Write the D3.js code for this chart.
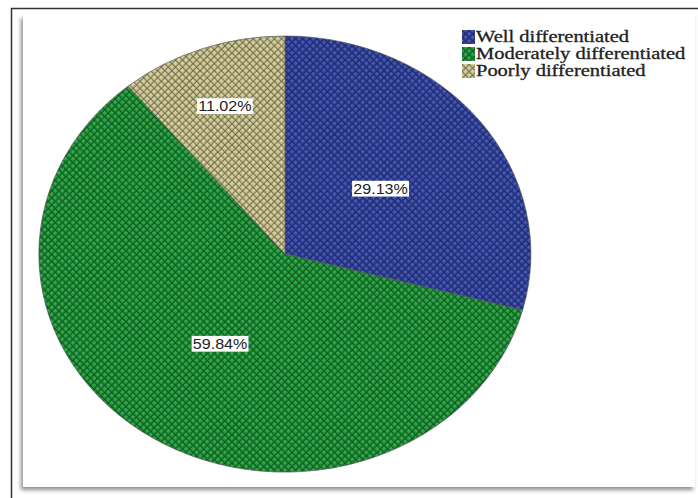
<!DOCTYPE html>
<html>
<head>
<meta charset="utf-8">
<script src="https://cdn.jsdelivr.net/npm/d3@7"></script>
<style>
  body { margin: 0; background: #fff; }
  svg { display: block; }
</style>
</head>
<body>
<svg id="chart" width="698" height="498"></svg>
<script>
// ------------------- Data -------------------
const categories = ["Well differentiated", "Moderately differentiated", "Poorly differentiated"];
const percents = [29.13, 59.84, 11.02];

const svg = d3.select("#chart");
const width = 698, height = 498;
const stretch = 1.15; // the original picture is stretched sideways

// ------------------- Frame -------------------
svg.append("rect").attr("x", 11.5).attr("y", 8.5).attr("width", 700).attr("height", 500)
  .attr("fill", "#fff").attr("stroke", "#333").attr("stroke-width", 1.5);

const defs = svg.append("defs");
const shadow = defs.append("filter").attr("id", "shadow")
  .attr("x", "-5%").attr("y", "-5%").attr("width", "110%").attr("height", "110%");
shadow.append("feDropShadow").attr("dx", -2).attr("dy", 3).attr("stdDeviation", 2)
  .attr("flood-color", "#000").attr("flood-opacity", 0.45);

svg.append("rect").attr("x", 23).attr("y", 15).attr("width", 672).attr("height", 472)
  .attr("fill", "#fff").attr("filter", "url(#shadow)");

// ------------------- Patterns -------------------
const color = d3.scaleOrdinal()
  .domain(categories)
  .range([
    { base: "#2f4096", dark: "#17205a", light: "#4658b2" },
    { base: "#1c8a36", dark: "#0a4617", light: "#36a84c" },
    { base: "#bdb584", dark: "#58563a", light: "#d8d1a4" }
  ]);

// ellipse pie geometry
const cx = 285, cy = 254, rx = 246, ry = 218;

function makePattern(id, col, transform) {
  const p = defs.append("pattern").attr("id", id)
    .attr("patternUnits", "userSpaceOnUse").attr("width", 5).attr("height", 5)
    .attr("patternTransform", transform);
  p.append("rect").attr("width", 5).attr("height", 5).attr("fill", col.base);
  p.append("rect").attr("x", 1.1).attr("y", 1.1).attr("width", 2.8).attr("height", 2.8).attr("fill", col.light);
  p.append("line").attr("x1", 0).attr("y1", 0).attr("x2", 5).attr("y2", 0)
    .attr("stroke", col.dark).attr("stroke-width", 1.3);
  p.append("line").attr("x1", 0).attr("y1", 0).attr("x2", 0).attr("y2", 5)
    .attr("stroke", col.dark).attr("stroke-width", 1.3);
}

categories.forEach((c, i) => {
  makePattern(`pat${i}`, color(c), "rotate(45)");
  makePattern(`pie${i}`, color(c), `scale(${1 / rx},${1 / ry}) rotate(45)`);
});

// ------------------- Pie (ellipse) -------------------
const pie = d3.pie().sort(null).value(d => d.value);
const arcs = pie(categories.map((c, i) => ({ cat: c, value: percents[i], i })));
const arc = d3.arc().innerRadius(0).outerRadius(1);

const g = svg.append("g").attr("transform", `translate(${cx},${cy}) scale(${rx},${ry})`);
g.selectAll("path.slice").data(arcs).join("path")
  .attr("class", "slice")
  .attr("d", arc)
  .attr("fill", d => `url(#pie${d.data.i})`)
  .attr("stroke", "#555")
  .attr("stroke-width", 0.7)
  .attr("vector-effect", "non-scaling-stroke");

// labels: small slices pushed outward
const labelG = svg.append("g");
arcs.forEach(d => {
  const r = d.data.value < 15 ? 0.72 : 0.49;
  const [x, y] = d3.arc().innerRadius(r).outerRadius(r).centroid(d);
  const lg = labelG.append("g")
    .attr("transform", `translate(${cx + x * rx},${cy + y * ry}) scale(${stretch},1)`);
  const t = lg.append("text")
    .attr("text-anchor", "middle").attr("dy", "0.35em")
    .attr("font-family", "Liberation Sans, Arial, sans-serif")
    .attr("font-size", 14).attr("fill", "#222")
    .text(`${d.data.value.toFixed(2)}%`);
  const bb = t.node().getBBox();
  lg.insert("rect", "text")
    .attr("x", bb.x - 1).attr("y", bb.y).attr("width", bb.width + 2).attr("height", bb.height)
    .attr("fill", "#fff");
});

// ------------------- Legend -------------------
const legend = svg.append("g").attr("transform", "translate(462,30)");
const rows = legend.selectAll("g").data(categories).join("g")
  .attr("transform", (d, i) => `translate(0,${i * 17})`);
rows.append("rect").attr("width", 13).attr("height", 14)
  .attr("fill", (d, i) => `url(#pat${i})`);
rows.append("text")
  .attr("transform", "translate(14,12) scale(1.28,1)")
  .attr("font-family", "Liberation Serif, Times New Roman, serif")
  .attr("font-size", 16).attr("fill", "#222")
  .attr("stroke", "#222").attr("stroke-width", 0.3)
  .text(d => d);
</script>
</body>
</html>
